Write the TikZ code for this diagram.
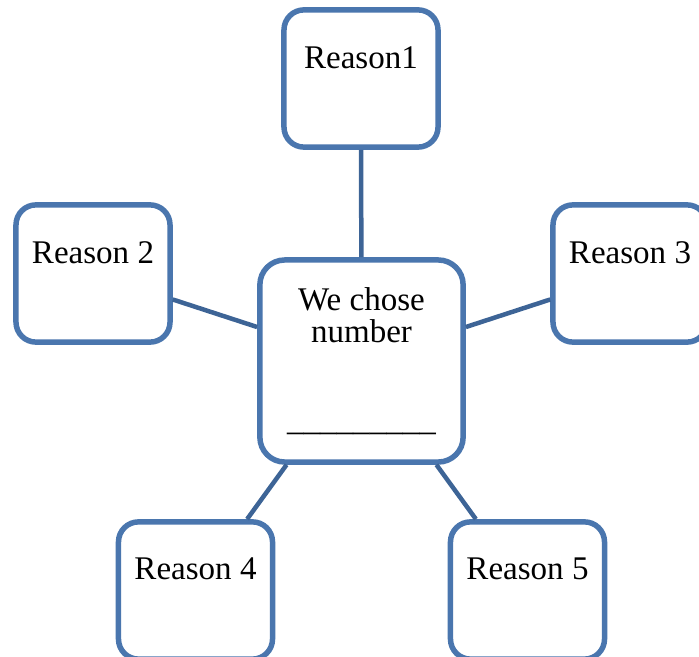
\documentclass[tikz,border=0pt]{standalone}
\usepackage{fontspec}
\setmainfont{Liberation Serif}
\usepackage{tikz}
\definecolor{boxblue}{HTML}{4A76AE}
\definecolor{linkblue}{HTML}{3D6496}
\begin{document}
\begin{tikzpicture}[x=0.025cm,y=-0.025cm,
	reason/.style={draw=boxblue,line width=3.9pt,rounded corners=0.5cm,fill=white,
	minimum width=3.85cm,minimum height=3.43cm,inner sep=0pt},
	lbl/.style={anchor=north,inner sep=0pt,align=center,yshift=-0.97cm,
	font=\fontsize{23.5}{23}\selectfont},
	link/.style={draw=linkblue,line width=3.2pt}]
\useasboundingbox (0,0) rectangle (699,657);
\node[reason,minimum width=5.08cm,minimum height=5.05cm,rounded corners=0.62cm,
	label={[lbl,yshift=0.22cm]north:We chose\\number\\[1.38cm]\_\_\_\_\_\_\_\_\_}] (centre) at (361.5,361) {};
\node[reason,label={[lbl]north:Reason1}] (r1) at (361,78.5) {};
\node[reason,label={[lbl]north:Reason 2}] (r2) at (93,273.5) {};
\node[reason,label={[lbl]north:Reason 3}] (r3) at (630,273.5) {};
\node[reason,label={[lbl]north:Reason 4}] (r4) at (195.5,590.5) {};
\node[reason,label={[lbl]north:Reason 5}] (r5) at (527.5,590.5) {};
\draw[link] (r1) -- (centre);
\draw[link] (r2) -- (centre);
\draw[link] (r3) -- (centre);
\draw[link] (r4) -- (centre);
\draw[link] (r5) -- (centre);
\end{tikzpicture}
\end{document}
